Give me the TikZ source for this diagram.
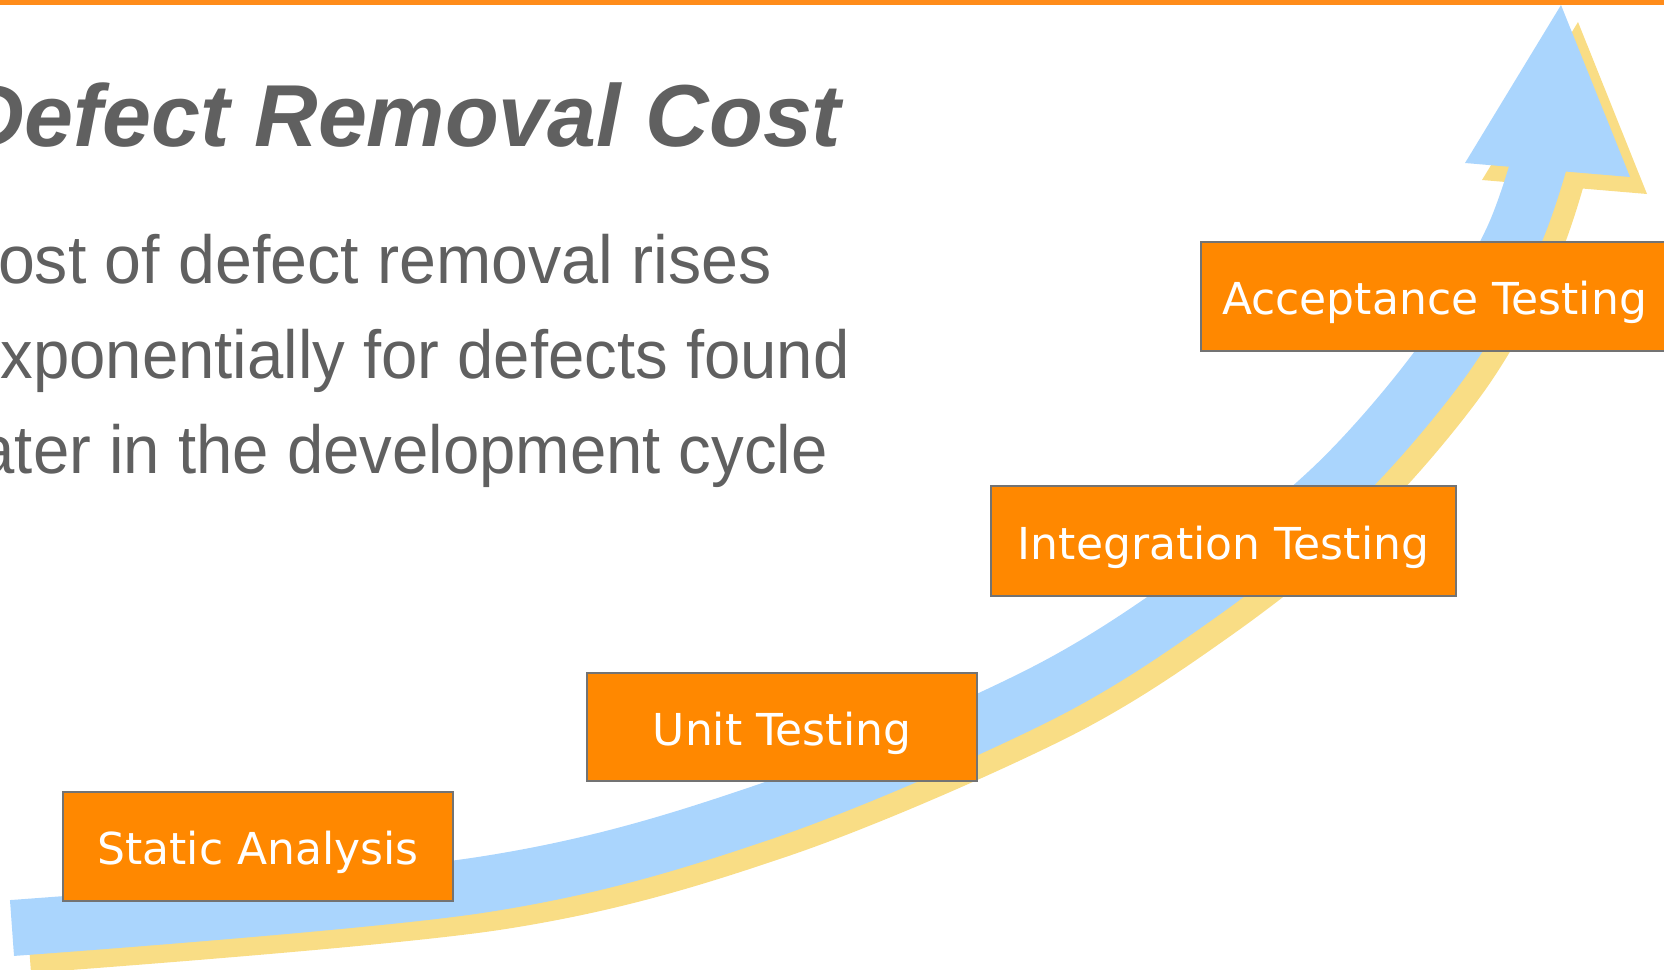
\documentclass[tikz,border=0pt]{standalone}
\usepackage{fontspec}
\setmainfont{Liberation Sans}
\newfontfamily\bodyfont[FakeStretch=0.96]{Liberation Sans}
\newfontfamily\leadfont[FakeStretch=0.975]{Liberation Sans}
\newfontfamily\labelfont{DejaVu Sans}
\definecolor{stagefill}{HTML}{FF8800}
\definecolor{stageedge}{HTML}{737373}
\definecolor{topbar}{HTML}{FF8C1A}
\definecolor{riseblue}{HTML}{AAD5FD}
\definecolor{riseshadow}{HTML}{F9DD85}
\definecolor{inkgray}{HTML}{606060}
\begin{document}
\begin{tikzpicture}[x=1pt,y=-1pt,
  stage/.style={rectangle, draw=stageedge, line width=2.7pt, fill=stagefill,
    text=white, font=\labelfont\fontsize{44}{48}\selectfont,
    text height=36pt, text depth=0pt, inner sep=0pt},
  bodytext/.style={anchor=base west, inner sep=0pt, text=inkgray,
    font=\bodyfont\fontsize{68}{80}\selectfont},
  shaft/.style={line width=56pt, line cap=butt, line join=round}]
\useasboundingbox (0,0) rectangle (1664,969);
\clip (0,0) rectangle (1664,969);

% shadow of the rising arrow
\begin{scope}[shift={(17,17)}]
  \draw[shaft, draw=riseshadow] plot[smooth, tension=0.55] coordinates
    {(12,928) (480,885) (761,813) (1033,698) (1196,597) (1335,485) (1443,360) (1511,242) (1540,160)};
  \fill[riseshadow] (1465,163) -- (1561,5) -- (1630,177) -- cycle;
\end{scope}

% rising arrow
\draw[shaft, draw=riseblue] plot[smooth, tension=0.55] coordinates
  {(12,928) (480,885) (761,813) (1033,698) (1196,597) (1335,485) (1443,360) (1511,242) (1540,160)};
\fill[riseblue] (1465,163) -- (1561,5) -- (1630,177) -- cycle;

% stages
\node[stage, minimum width=390pt, minimum height=109pt] (sa) at (258,846.5) {Static Analysis};
\node[stage, minimum width=390pt, minimum height=108pt] (ut) at (782,727) {Unit Testing};
\node[stage, minimum width=465pt, minimum height=110pt] (it) at (1223.5,541) {Integration Testing};
\node[stage, minimum width=467pt, minimum height=109pt] (at) at (1434.5,296.5) {Acceptance Testing};

% heading and explanation
\node[anchor=base west, inner sep=0pt, text=inkgray,
  font=\bfseries\itshape\fontsize{88}{96}\selectfont] (title) at (-39,146) {Defect Removal Cost};
\node[bodytext, font=\leadfont\fontsize{68}{80}\selectfont] (line1) at (-50,283) {Cost of defect removal rises};
\node[bodytext] (line2) at (-36,378) {exponentially for defects found};
\node[bodytext] (line3) at (-36,473) {later in the development cycle};

% top rule
\fill[topbar] (0,0) rectangle (1664,5);
\end{tikzpicture}
\end{document}
